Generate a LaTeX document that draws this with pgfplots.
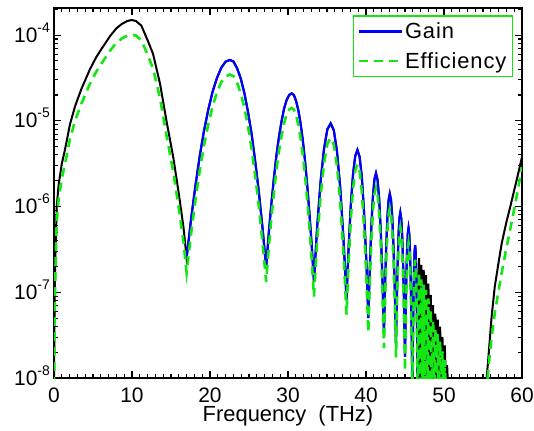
\documentclass[border=0pt]{standalone}
\usepackage{fontspec}
\setmainfont{Liberation Sans}
\usepackage{pgfplots}
\usepackage{pgfplotstable}
\pgfplotsset{compat=1.18}
\definecolor{mblue}{RGB}{0,0,255}
\definecolor{mgreen}{RGB}{20,230,20}
\newcommand{\tl}[1]{10\raisebox{10bp}{\fontsize{14}{14}\selectfont #1}}
\pgfplotstableread{
f g e
0.00 7.94e-9 5.37e-9
0.05 3.16e-8 2.14e-8
0.10 1.00e-7 6.76e-8
0.20 3.16e-7 2.14e-7
0.35 1.00e-6 6.76e-7
0.60 1.82e-6 1.23e-6
1.00 3.16e-6 2.14e-6
1.40 4.57e-6 3.09e-6
2.05 9.12e-6 6.17e-6
2.70 1.48e-5 1.00e-5
3.50 2.34e-5 1.58e-5
4.60 3.98e-5 2.69e-5
5.40 5.50e-5 3.72e-5
6.10 6.92e-5 4.68e-5
7.20 9.77e-5 6.61e-5
8.00 1.20e-4 8.13e-5
8.70 1.35e-4 9.12e-5
9.40 1.46e-4 9.89e-5
9.96 1.50e-4 1.01e-4
10.50 1.46e-4 9.89e-5
11.20 1.29e-4 8.71e-5
12.00 8.71e-5 5.89e-5
12.70 6.03e-5 4.07e-5
13.60 2.69e-5 1.82e-5
14.40 1.02e-5 6.92e-6
15.30 3.72e-6 2.51e-6
16.00 1.41e-6 9.55e-7
16.60 5.75e-7 3.89e-7
17.00 2.51e-7 1.70e-7
17.556 6.92e-7 4.68e-7
18.112 1.70e-6 1.15e-6
18.668 3.80e-6 2.57e-6
19.224 7.59e-6 5.13e-6
19.780 1.35e-5 9.12e-6
20.336 2.19e-5 1.48e-5
20.892 3.16e-5 2.14e-5
21.448 4.17e-5 2.82e-5
22.004 4.90e-5 3.31e-5
22.560 5.13e-5 3.47e-5
23.024 4.90e-5 3.31e-5
23.488 4.07e-5 2.75e-5
23.952 3.09e-5 2.09e-5
24.416 2.09e-5 1.41e-5
24.880 1.26e-5 8.51e-6
25.344 6.92e-6 4.68e-6
25.808 3.31e-6 2.24e-6
26.272 1.45e-6 9.77e-7
26.736 5.62e-7 3.80e-7
27.200 1.95e-7 1.32e-7
27.527 4.79e-7 3.24e-7
27.854 1.05e-6 7.08e-7
28.181 2.09e-6 1.41e-6
28.508 3.89e-6 2.63e-6
28.835 6.46e-6 4.37e-6
29.162 9.77e-6 6.61e-6
29.489 1.38e-5 9.33e-6
29.816 1.74e-5 1.18e-5
30.143 2.00e-5 1.35e-5
30.470 2.09e-5 1.41e-5
30.756 2.00e-5 1.35e-5
31.042 1.70e-5 1.15e-5
31.328 1.32e-5 8.91e-6
31.614 9.33e-6 6.31e-6
31.900 5.89e-6 3.98e-6
32.186 3.39e-6 2.29e-6
32.472 1.74e-6 1.17e-6
32.758 8.13e-7 5.50e-7
33.044 3.47e-7 2.34e-7
33.330 1.32e-7 8.91e-8
33.544 2.95e-7 2.00e-7
33.758 6.17e-7 4.17e-7
34.186 2.00e-6 1.35e-6
34.614 4.68e-6 3.16e-6
35.042 7.94e-6 5.37e-6
35.470 9.33e-6 6.31e-6
35.876 7.76e-6 5.25e-6
36.282 4.37e-6 2.95e-6
36.688 1.70e-6 1.15e-6
37.094 4.47e-7 3.02e-7
37.297 2.00e-7 1.35e-7
37.500 8.13e-8 5.50e-8
37.640 1.74e-7 1.17e-7
37.780 3.47e-7 2.34e-7
38.060 1.07e-6 7.24e-7
38.340 2.40e-6 1.62e-6
38.620 3.89e-6 2.63e-6
38.900 4.57e-6 3.09e-6
39.180 3.80e-6 2.57e-6
39.460 2.24e-6 1.51e-6
39.740 8.91e-7 6.03e-7
40.020 2.57e-7 1.74e-7
40.160 1.17e-7 7.94e-8
40.300 5.01e-8 3.39e-8
40.398 1.05e-7 7.08e-8
40.496 2.04e-7 1.38e-7
40.692 6.03e-7 4.07e-7
40.888 1.32e-6 8.91e-7
41.084 2.09e-6 1.41e-6
41.280 2.45e-6 1.66e-6
41.484 2.04e-6 1.38e-6
41.688 1.23e-6 8.32e-7
41.892 5.25e-7 3.55e-7
42.096 1.55e-7 1.05e-7
42.198 7.41e-8 5.01e-8
42.300 3.31e-8 2.24e-8
42.450 1.29e-7 8.71e-8
42.600 3.63e-7 2.45e-7
42.750 7.76e-7 5.25e-7
42.900 1.20e-6 8.13e-7
43.050 1.41e-6 9.55e-7
43.210 1.20e-6 8.13e-7
43.370 7.41e-7 5.01e-7
43.530 3.31e-7 2.24e-7
43.690 1.10e-7 7.41e-8
43.850 2.57e-8 1.74e-8
43.960 9.12e-8 6.17e-8
44.070 2.40e-7 1.62e-7
44.180 4.90e-7 3.31e-7
44.290 7.41e-7 5.01e-7
44.400 8.51e-7 5.75e-7
44.520 7.24e-7 4.90e-7
44.640 4.57e-7 3.09e-7
44.760 2.09e-7 1.41e-7
44.880 7.08e-8 4.79e-8
45.000 1.78e-8 1.20e-8
45.090 6.17e-8 4.17e-8
45.180 1.62e-7 1.10e-7
45.270 3.24e-7 2.19e-7
45.360 4.90e-7 3.31e-7
45.450 5.62e-7 3.80e-7
45.550 4.79e-7 3.24e-7
45.650 2.82e-7 1.91e-7
45.750 1.20e-7 8.13e-8
45.850 3.72e-8 2.51e-8
45.950 7.94e-9 5.37e-9
46.020 3.09e-8 2.09e-8
46.090 9.12e-8 6.17e-8
46.160 1.95e-7 1.32e-7
46.230 3.02e-7 2.04e-7
46.300 3.55e-7 2.40e-7
46.370 2.95e-7 2.00e-7
46.440 1.74e-7 1.17e-7
46.510 7.08e-8 4.79e-8
46.580 2.00e-8 1.35e-8
46.650 3.98e-9 2.69e-9
46.725 8.32e-8 5.62e-8
46.800 2.51e-7 1.70e-7
46.875 8.32e-8 5.62e-8
46.950 3.16e-9 2.14e-9
47.025 7.24e-8 4.90e-8
47.100 2.09e-7 1.41e-7
47.175 7.24e-8 4.90e-8
47.250 3.16e-9 2.14e-9
47.325 6.61e-8 4.47e-8
47.400 1.82e-7 1.23e-7
47.475 6.61e-8 4.47e-8
47.550 3.16e-9 2.14e-9
47.625 5.89e-8 3.98e-8
47.700 1.58e-7 1.07e-7
47.775 5.89e-8 3.98e-8
47.850 3.16e-9 2.14e-9
47.925 5.01e-8 3.39e-8
48.000 1.26e-7 8.51e-8
48.075 5.01e-8 3.39e-8
48.150 3.16e-9 2.14e-9
48.225 3.98e-8 2.69e-8
48.300 9.33e-8 6.31e-8
48.375 3.98e-8 2.69e-8
48.450 3.16e-9 2.14e-9
48.525 3.24e-8 2.19e-8
48.600 7.08e-8 4.79e-8
48.675 3.24e-8 2.19e-8
48.750 3.16e-9 2.14e-9
48.825 2.75e-8 1.86e-8
48.900 5.62e-8 3.80e-8
48.975 2.75e-8 1.86e-8
49.050 3.16e-9 2.14e-9
49.125 2.40e-8 1.62e-8
49.200 4.79e-8 3.24e-8
49.275 2.40e-8 1.62e-8
49.350 3.16e-9 2.14e-9
49.425 2.09e-8 1.41e-8
49.500 3.98e-8 2.69e-8
49.575 2.09e-8 1.41e-8
49.650 3.16e-9 2.14e-9
49.725 1.70e-8 1.15e-8
49.800 3.02e-8 2.04e-8
49.875 1.70e-8 1.15e-8
49.950 3.16e-9 2.14e-9
50.025 1.45e-8 9.77e-9
50.100 2.40e-8 1.62e-8
50.175 1.45e-8 9.77e-9
50.250 3.16e-9 2.14e-9
50.325 9.77e-9 6.61e-9
50.400 1.41e-8 9.55e-9
50.475 9.77e-9 6.61e-9
50.550 3.16e-9 2.14e-9
55.300 3.16e-9 2.00e-9
55.470 1.00e-8 7.08e-9
55.700 1.78e-8 1.29e-8
55.900 3.02e-8 2.04e-8
56.100 5.13e-8 2.95e-8
56.500 1.15e-7 5.62e-8
57.000 2.24e-7 1.05e-7
57.400 3.72e-7 1.70e-7
58.000 6.61e-7 3.31e-7
58.500 1.00e-6 5.50e-7
59.000 1.55e-6 9.33e-7
59.500 2.40e-6 1.62e-6
60.000 3.80e-6 2.88e-6
}\datatable
\begin{document}
\begin{tikzpicture}
\begin{axis}[
  scale only axis, width=468bp, height=370bp,
  xmin=0, xmax=60, ymode=log, ymin=1e-8, ymax=2.07e-4,
  xtick={0,10,20,30,40,50,60}, xticklabels={0,10,20,30,40,50,60},
  minor x tick num=9,
  ytick={1e-8,1e-7,1e-6,1e-5,1e-4},
  yticklabels={\tl{-8},\tl{-7},\tl{-6},\tl{-5},\tl{-4}},
  minor ytick={2e-8,3e-8,4e-8,5e-8,6e-8,7e-8,8e-8,9e-8,2e-7,3e-7,4e-7,5e-7,6e-7,7e-7,8e-7,9e-7,2e-6,3e-6,4e-6,5e-6,6e-6,7e-6,8e-6,9e-6,2e-5,3e-5,4e-5,5e-5,6e-5,7e-5,8e-5,9e-5,2e-4},
  tick align=inside, major tick length=7bp, minor tick length=4bp,
  every tick/.style={black, line width=1.1bp},
  axis line style={line width=1.5bp},
  tick label style={font=\fontsize{21}{25}\selectfont},
  xticklabel style={anchor=base, yshift=-24bp, inner sep=0pt},
  yticklabel style={anchor=base east, yshift=-7bp, xshift=-4bp, inner sep=0pt},
  xlabel={Frequency\ \ (THz)},
  xlabel style={font=\fontsize{22}{26}\selectfont, at={(axis description cs:0.5,0)}, anchor=base, yshift=-43bp, inner sep=0pt},
  legend style={at={(rel axis cs:0.981,0.981)}, anchor=north east, draw=mgreen, line width=1.6bp, font=\fontsize{22}{26}\selectfont\addfontfeatures{LetterSpace=4}, inner xsep=4bp, inner ysep=5bp, row sep=8bp},
  legend cell align=left,
  legend image code/.code={\draw[#1] (0bp,0bp) -- (43bp,0bp);},
]
\addplot[black, line width=2bp, forget plot] table[x=f, y=g] {\datatable};
\addplot[mblue, line width=2.2bp, restrict x to domain=16.99:46.66] table[x=f, y=g] {\datatable};
\addlegendentry{Gain}
\addplot[mgreen, line width=2.6bp, dash pattern=on 9bp off 6bp] table[x=f, y=e] {\datatable};
\addlegendentry{Efficiency}
\end{axis}
\pgfresetboundingbox
\path ([xshift=-54bp,yshift=8bp]current axis.north west) rectangle ([xshift=12bp,yshift=-52bp]current axis.south east);
\end{tikzpicture}
\end{document}
